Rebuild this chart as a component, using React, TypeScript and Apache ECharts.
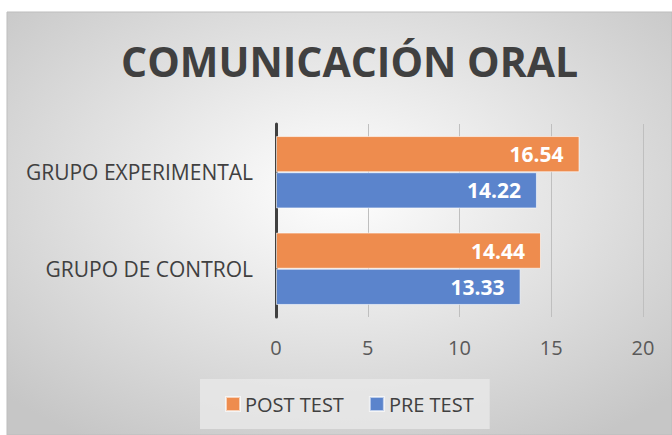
import React, { useEffect, useRef } from "react";
import * as echarts from "echarts";

const categories = ["GRUPO DE CONTROL", "GRUPO EXPERIMENTAL"];
const postTest = [14.44, 16.54];
const preTest = [13.33, 14.22];
const xTicks = [0, 5, 10, 15, 20];
const titleText = "COMUNICACIÓN ORAL";

export default function App() {
  const ref = useRef<HTMLDivElement>(null);
  useEffect(() => {
    if (!ref.current) return;
    const chart = echarts.init(ref.current, null, { renderer: "svg" });
    const font = "'Open Sans', 'Noto Sans', sans-serif";
    const labelStyle = {
      show: true,
      position: "insideRight",
      distance: 16,
      color: "#ffffff",
      fontWeight: "bold",
      fontSize: 21,
      fontFamily: font,
    };
    chart.setOption({
      animation: false,
      textStyle: { fontFamily: font },
      graphic: [
        {
          type: "rect",
          shape: { x: 7, y: 12, width: 665, height: 423 },
          style: {
            fill: new echarts.graphic.RadialGradient(0.5, 0.42, 0.7, [
              { offset: 0, color: "#ffffff" },
              { offset: 1, color: "#c6c6c6" },
            ]),
            stroke: "#bdbdbd",
            lineWidth: 1,
          },
          z: -10,
          silent: true,
        },
      ],
      title: {
        text: titleText,
        left: 116,
        top: 35,
        textStyle: {
          fontFamily: font,
          fontSize: 41,
          fontWeight: "bold",
          color: "#404040",
        },
      },
      grid: { left: 276, right: 29, top: 124, bottom: 118, containLabel: false },
      xAxis: {
        type: "value",
        min: 0,
        max: 20,
        interval: 5,
        axisLine: { show: false },
        axisTick: { show: false },
        splitLine: { show: true, lineStyle: { color: "#bfbfbf", width: 1 } },
        axisLabel: {
          color: "#595959",
          fontSize: 20,
          margin: 20,
          fontFamily: font,
          formatter: (v: number) => (xTicks.includes(v) ? String(v) : ""),
        },
      },
      yAxis: {
        type: "category",
        data: categories,
        axisLine: { show: true, lineStyle: { color: "#404040", width: 3 } },
        axisTick: { show: false },
        axisLabel: { color: "#404040", fontSize: 21, margin: 23, fontFamily: font },
      },
      legend: {
        data: ["POST TEST", "PRE TEST"],
        left: 200,
        top: 379,
        width: 293,
        backgroundColor: "rgba(232,232,232,0.85)",
        padding: [15, 16, 15, 25],
        itemGap: 25,
        itemWidth: 14,
        itemHeight: 14,
        icon: "rect",
        textStyle: { color: "#404040", fontSize: 20, fontFamily: font },
      },
      series: [
        {
          name: "POST TEST",
          type: "bar",
          data: postTest,
          barGap: "0%",
          barCategoryGap: "25%",
          itemStyle: { color: "#EE8C4E", borderColor: "rgba(255,255,255,0.6)", borderWidth: 1 },
          label: labelStyle,
        },
        {
          name: "PRE TEST",
          type: "bar",
          data: preTest,
          barGap: "0%",
          barCategoryGap: "25%",
          itemStyle: { color: "#5B84CC", borderColor: "rgba(255,255,255,0.6)", borderWidth: 1 },
          label: labelStyle,
        },
      ],
    });
    return () => chart.dispose();
  }, []);
  return (
    <div
      ref={ref}
      style={{ position: "fixed", left: 0, top: 0, width: 672, height: 435, background: "#ffffff" }}
    />
  );
}
